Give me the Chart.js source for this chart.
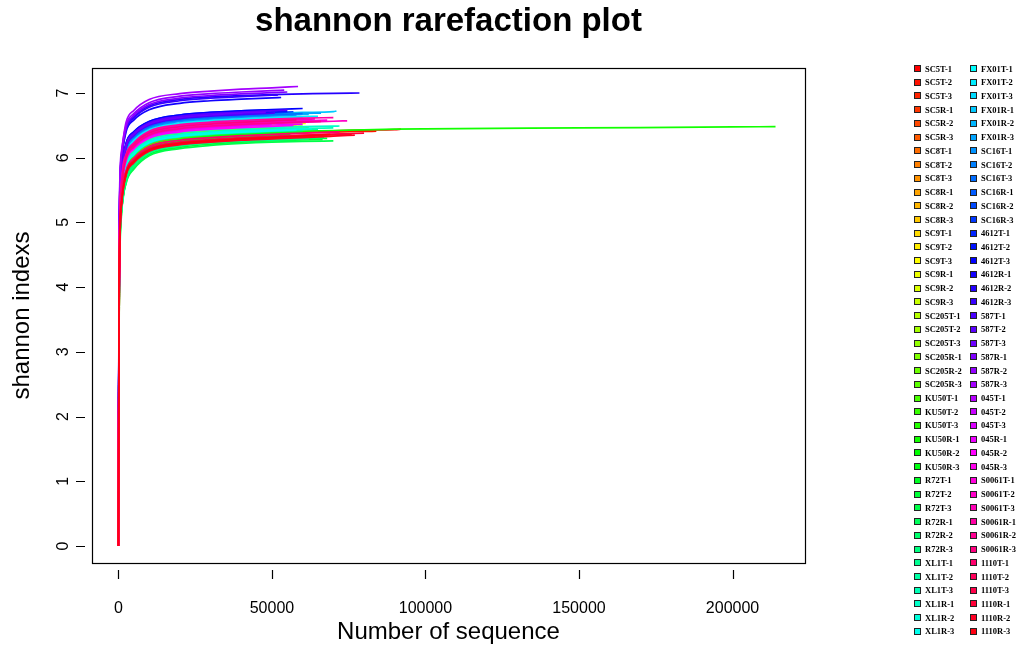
<!DOCTYPE html>
<html>
<head>
<meta charset="utf-8">
<script src="https://cdn.jsdelivr.net/npm/chart.js@4"></script>
<style>
  body { margin: 0; background: #fff; }
  #wrap { position: relative; width: 1016px; height: 650px; overflow: hidden; }
  #plot { position: absolute; left: 0; top: 0; }
  #title { position: absolute; left: 0; top: 0; width: 897px; text-align: center;
           font: bold 33px "Liberation Sans", Arial, sans-serif; line-height: 40px; color: #000; }
  .swatch { position: absolute; width: 7px; height: 7px; box-sizing: border-box; border: 1px solid #222; }
  .keytext { position: absolute; font: bold 8.5px "Liberation Serif", "Times New Roman", serif;
             line-height: 10px; white-space: nowrap; color: #000; }
</style>
</head>
<body>
<div id="wrap">
  <canvas id="plot" width="1016" height="650"></canvas>
  <div id="title">shannon rarefaction plot</div>
  <div id="legend"></div>
</div>
<script>
(function(){

	"use strict";

// Sample names (legend order)
	const sampleNames = [
		"SC5T-1","SC5T-2","SC5T-3","SC5R-1","SC5R-2","SC5R-3",
		"SC8T-1","SC8T-2","SC8T-3","SC8R-1","SC8R-2","SC8R-3",
		"SC9T-1","SC9T-2","SC9T-3","SC9R-1","SC9R-2","SC9R-3",
		"SC205T-1","SC205T-2","SC205T-3","SC205R-1","SC205R-2","SC205R-3",
		"KU50T-1","KU50T-2","KU50T-3","KU50R-1","KU50R-2","KU50R-3",
		"R72T-1","R72T-2","R72T-3","R72R-1","R72R-2","R72R-3",
		"XL1T-1","XL1T-2","XL1T-3","XL1R-1","XL1R-2","XL1R-3",
		"FX01T-1","FX01T-2","FX01T-3","FX01R-1","FX01R-2","FX01R-3",
		"SC16T-1","SC16T-2","SC16T-3","SC16R-1","SC16R-2","SC16R-3",
		"4612T-1","4612T-2","4612T-3","4612R-1","4612R-2","4612R-3",
		"587T-1","587T-2","587T-3","587R-1","587R-2","587R-3",
		"045T-1","045T-2","045T-3","045R-1","045R-2","045R-3",
		"S0061T-1","S0061T-2","S0061T-3","S0061R-1","S0061R-2","S0061R-3",
		"1110T-1","1110T-2","1110T-3","1110R-1","1110R-2","1110R-3"
	];

// Sequencing depths where the curves were sampled
	const depthSteps = [1, 250, 1000, 2500, 5000, 10000, 20000, 30000, 40000, 50000, 60000, 70000, 80000, 90000, 100000, 150000, 200000];

// Last depth of every sample
	const maxDepth = [
		92000, 84000, 76000, 62000, 58000, 65000,
		55000, 1200, 60000, 52000, 57000, 63000,
		50000, 54000, 58000, 61000, 49000, 56000,
		53000, 57000, 60000, 52000, 58000, 62000,
		55000, 59000, 50000, 214000, 56000, 61000,
		66500, 68000, 70000, 64000, 67000, 62000,
		60000, 65000, 70000, 72000, 63000, 58000,
		60000, 65000, 56000, 71000, 62000, 66000,
		58000, 54000, 60000, 52000, 57000, 49000,
		50000, 55000, 60000, 53000, 78500, 52000,
		51000, 55000, 48000, 55000, 54000, 58500,
		52000, 56000, 50000, 60000, 57000, 62000,
		68000, 74500, 64000, 70000, 66000, 58000,
		72000, 75000, 66000, 80000, 77000, 69000
	];

// Shannon index at each depth step below maxDepth, last value = at maxDepth
	const shannonValues = [
		[0, 3.9, 5.40, 5.85, 6.03, 6.20, 6.30, 6.34, 6.365, 6.385, 6.40, 6.415, 6.425, 6.435, 6.44],
		[0, 4.1, 5.38, 5.83, 6.01, 6.18, 6.28, 6.32, 6.345, 6.365, 6.38, 6.395, 6.405, 6.41],
		[0, 3.7, 5.32, 5.78, 5.97, 6.14, 6.24, 6.28, 6.305, 6.325, 6.34, 6.352, 6.36],
		[0, 4.0, 5.33, 5.78, 5.96, 6.13, 6.23, 6.27, 6.295, 6.315, 6.328, 6.33],
		[0, 3.8, 5.38, 5.83, 6.01, 6.18, 6.28, 6.32, 6.345, 6.365, 6.38],
		[0, 4.2, 5.40, 5.85, 6.03, 6.20, 6.30, 6.34, 6.365, 6.385, 6.396, 6.40],
		[0, 4.3, 5.58, 6.03, 6.21, 6.38, 6.48, 6.52, 6.545, 6.565, 6.58],
		[0, 3.6, 5.35, 5.48],
		[0, 4.0, 5.60, 6.05, 6.23, 6.40, 6.50, 6.54, 6.565, 6.585, 6.60],
		[0, 4.4, 5.55, 6.00, 6.18, 6.35, 6.45, 6.49, 6.515, 6.54, 6.55],
		[0, 3.9, 5.62, 6.07, 6.25, 6.42, 6.52, 6.56, 6.585, 6.605, 6.62],
		[0, 4.1, 5.57, 6.02, 6.20, 6.37, 6.47, 6.51, 6.535, 6.555, 6.568, 6.57],
		[0, 4.2, 5.52, 5.97, 6.15, 6.32, 6.42, 6.46, 6.485, 6.505],
		[0, 3.8, 5.55, 6.00, 6.18, 6.35, 6.45, 6.49, 6.515, 6.535, 6.545],
		[0, 4.0, 5.50, 5.95, 6.13, 6.30, 6.40, 6.44, 6.465, 6.485, 6.50],
		[0, 4.3, 5.53, 5.98, 6.16, 6.33, 6.43, 6.47, 6.495, 6.515, 6.528, 6.53],
		[0, 3.7, 5.48, 5.93, 6.11, 6.28, 6.38, 6.42, 6.445, 6.46],
		[0, 4.1, 5.51, 5.96, 6.14, 6.31, 6.41, 6.45, 6.475, 6.495, 6.505],
		[0, 3.9, 5.47, 5.92, 6.10, 6.27, 6.37, 6.41, 6.435, 6.455, 6.46],
		[0, 4.2, 5.45, 5.90, 6.08, 6.25, 6.35, 6.39, 6.415, 6.435, 6.45],
		[0, 4.0, 5.49, 5.94, 6.12, 6.29, 6.39, 6.43, 6.455, 6.475, 6.49],
		[0, 3.8, 5.44, 5.89, 6.07, 6.24, 6.34, 6.38, 6.405, 6.425, 6.43],
		[0, 4.4, 5.42, 5.87, 6.05, 6.22, 6.32, 6.36, 6.385, 6.405, 6.42],
		[0, 4.1, 5.46, 5.91, 6.09, 6.26, 6.36, 6.40, 6.425, 6.445, 6.458, 6.46],
		[0, 3.9, 5.30, 5.80, 5.99, 6.18, 6.29, 6.34, 6.365, 6.385, 6.395],
		[0, 4.2, 5.35, 5.84, 6.03, 6.22, 6.33, 6.37, 6.395, 6.415, 6.43],
		[0, 4.0, 5.28, 5.78, 5.97, 6.16, 6.27, 6.32, 6.35, 6.37],
		[0, 4.3, 5.36, 5.85, 6.05, 6.22, 6.32, 6.36, 6.385, 6.40, 6.41, 6.42, 6.43, 6.44, 6.445, 6.46, 6.475, 6.48],
		[0, 3.7, 5.25, 5.75, 5.95, 6.14, 6.25, 6.30, 6.325, 6.345, 6.355],
		[0, 4.1, 5.30, 5.79, 5.98, 6.17, 6.28, 6.33, 6.355, 6.375, 6.388, 6.39],
		[0, 3.8, 5.15, 5.62, 5.84, 6.05, 6.16, 6.21, 6.24, 6.26, 6.275, 6.28],
		[0, 4.0, 5.18, 5.65, 5.87, 6.08, 6.19, 6.24, 6.265, 6.28, 6.293, 6.30],
		[0, 3.6, 5.12, 5.60, 5.82, 6.03, 6.14, 6.19, 6.22, 6.24, 6.252, 6.26],
		[0, 4.2, 5.22, 5.69, 5.91, 6.11, 6.22, 6.27, 6.295, 6.31, 6.325, 6.33],
		[0, 3.9, 5.20, 5.67, 5.89, 6.09, 6.20, 6.25, 6.275, 6.29, 6.303, 6.31],
		[0, 4.1, 5.17, 5.64, 5.86, 6.07, 6.18, 6.23, 6.255, 6.272, 6.286, 6.29],
		[0, 4.0, 5.38, 5.85, 6.04, 6.22, 6.32, 6.36, 6.385, 6.405, 6.42],
		[0, 3.8, 5.40, 5.87, 6.06, 6.24, 6.34, 6.38, 6.405, 6.422, 6.435, 6.44],
		[0, 4.2, 5.42, 5.89, 6.08, 6.26, 6.36, 6.40, 6.425, 6.44, 6.452, 6.46],
		[0, 4.1, 5.45, 5.92, 6.11, 6.29, 6.39, 6.43, 6.455, 6.47, 6.48, 6.487, 6.49],
		[0, 3.9, 5.41, 5.88, 6.07, 6.25, 6.35, 6.39, 6.415, 6.432, 6.446, 6.45],
		[0, 4.3, 5.39, 5.86, 6.05, 6.23, 6.33, 6.37, 6.395, 6.415, 6.43],
		[0, 4.2, 5.62, 6.07, 6.25, 6.42, 6.52, 6.56, 6.585, 6.605, 6.62],
		[0, 4.0, 5.64, 6.09, 6.27, 6.44, 6.54, 6.58, 6.605, 6.622, 6.635, 6.64],
		[0, 4.4, 5.60, 6.05, 6.23, 6.40, 6.50, 6.54, 6.565, 6.585, 6.595],
		[0, 4.1, 5.70, 6.15, 6.33, 6.50, 6.60, 6.64, 6.665, 6.685, 6.70, 6.713, 6.72],
		[0, 3.9, 5.67, 6.12, 6.30, 6.47, 6.57, 6.61, 6.635, 6.655, 6.668, 6.67],
		[0, 4.3, 5.69, 6.14, 6.32, 6.49, 6.59, 6.63, 6.655, 6.672, 6.685, 6.69],
		[0, 4.0, 5.68, 6.12, 6.30, 6.46, 6.56, 6.60, 6.625, 6.645, 6.66],
		[0, 4.5, 5.72, 6.16, 6.34, 6.50, 6.60, 6.64, 6.665, 6.685, 6.695],
		[0, 4.2, 5.70, 6.14, 6.32, 6.48, 6.58, 6.62, 6.645, 6.665, 6.68],
		[0, 4.4, 5.75, 6.19, 6.37, 6.53, 6.63, 6.67, 6.695, 6.72, 6.725],
		[0, 4.1, 5.73, 6.17, 6.35, 6.51, 6.61, 6.65, 6.675, 6.695, 6.71],
		[0, 4.6, 5.76, 6.20, 6.38, 6.54, 6.64, 6.68, 6.71, 6.725],
		[0, 4.5, 5.78, 6.22, 6.40, 6.56, 6.66, 6.70, 6.725, 6.74],
		[0, 4.3, 5.74, 6.18, 6.36, 6.52, 6.62, 6.66, 6.685, 6.705, 6.715],
		[0, 4.4, 5.78, 6.22, 6.40, 6.56, 6.66, 6.70, 6.725, 6.745, 6.76],
		[0, 4.7, 5.95, 6.40, 6.58, 6.74, 6.84, 6.88, 6.905, 6.925, 6.93],
		[0, 4.6, 6.00, 6.45, 6.63, 6.80, 6.90, 6.94, 6.96, 6.975, 6.985, 6.995, 7.00],
		[0, 4.8, 5.98, 6.43, 6.61, 6.78, 6.88, 6.92, 6.945, 6.965, 6.97],
		[0, 4.5, 5.72, 6.16, 6.34, 6.50, 6.60, 6.64, 6.665, 6.69, 6.695],
		[0, 4.3, 5.76, 6.20, 6.38, 6.54, 6.64, 6.68, 6.705, 6.725, 6.735],
		[0, 4.6, 5.74, 6.18, 6.36, 6.52, 6.62, 6.66, 6.69, 6.705],
		[0, 4.9, 6.02, 6.47, 6.65, 6.82, 6.92, 6.96, 6.985, 7.005, 7.015],
		[0, 4.7, 6.05, 6.50, 6.68, 6.85, 6.95, 6.99, 7.015, 7.035, 7.045],
		[0, 5.0, 6.10, 6.55, 6.73, 6.90, 6.99, 7.03, 7.06, 7.08, 7.10],
		[0, 4.2, 5.55, 6.00, 6.18, 6.35, 6.45, 6.49, 6.515, 6.54, 6.545],
		[0, 4.0, 5.58, 6.03, 6.21, 6.38, 6.48, 6.52, 6.545, 6.565, 6.575],
		[0, 4.4, 5.53, 5.98, 6.16, 6.33, 6.43, 6.47, 6.495, 6.515],
		[0, 3.9, 5.52, 5.97, 6.15, 6.32, 6.42, 6.46, 6.485, 6.505, 6.52],
		[0, 4.1, 5.50, 5.95, 6.13, 6.30, 6.40, 6.44, 6.465, 6.485, 6.50],
		[0, 4.3, 5.55, 6.00, 6.18, 6.35, 6.45, 6.49, 6.515, 6.535, 6.548, 6.55],
		[0, 3.8, 5.55, 6.00, 6.18, 6.36, 6.46, 6.50, 6.53, 6.55, 6.57, 6.58],
		[0, 4.0, 5.52, 5.98, 6.16, 6.34, 6.44, 6.48, 6.51, 6.53, 6.55, 6.563, 6.57],
		[0, 4.2, 5.58, 6.03, 6.21, 6.39, 6.49, 6.53, 6.555, 6.575, 6.592, 6.60],
		[0, 3.9, 5.60, 6.05, 6.23, 6.41, 6.51, 6.55, 6.575, 6.595, 6.61, 6.62],
		[0, 4.1, 5.54, 5.99, 6.17, 6.35, 6.45, 6.49, 6.515, 6.535, 6.552, 6.56],
		[0, 4.4, 5.57, 6.02, 6.20, 6.38, 6.48, 6.52, 6.545, 6.57, 6.585],
		[0, 3.7, 5.34, 5.80, 5.99, 6.17, 6.27, 6.31, 6.34, 6.36, 6.38, 6.395, 6.40],
		[0, 4.0, 5.31, 5.77, 5.96, 6.14, 6.24, 6.28, 6.31, 6.33, 6.35, 6.363, 6.37],
		[0, 3.8, 5.28, 5.74, 5.93, 6.11, 6.21, 6.25, 6.28, 6.30, 6.325, 6.34],
		[0, 4.2, 5.30, 5.76, 5.95, 6.13, 6.23, 6.27, 6.30, 6.32, 6.34, 6.362, 6.38],
		[0, 3.9, 5.27, 5.73, 5.92, 6.10, 6.20, 6.24, 6.27, 6.29, 6.31, 6.333, 6.35],
		[0, 4.1, 5.29, 5.75, 5.94, 6.12, 6.22, 6.26, 6.29, 6.31, 6.335, 6.36]
	];

// Axis ticks
	const xTicks = [0, 50000, 100000, 150000, 200000];
	const yTicks = [0, 1, 2, 3, 4, 5, 6, 7];

// Colours like R rainbow(n)
	function rainbow(i, n){
		return "hsl(" + (i / n * 360).toFixed(2) + ", 100%, 50%)";
	}

	const datasets = sampleNames.map(function(name, i){
		const row = shannonValues[i];
		const pts = row.map(function(v, j){
			return {x: j < row.length - 1 ? depthSteps[j] : maxDepth[i], y: v};
		});
		return {
			label: name,
			data: pts,
			borderColor: rainbow(i, sampleNames.length),
			borderWidth: 1.7,
			pointRadius: 0,
			fill: false,
			cubicInterpolationMode: "monotone",
			order: -i
		};
	});

// Box round the plot plus detached tick marks, R style
	const rFrame = {
		id: "rFrame",
		afterDatasetsDraw(chart){
			const ctx = chart.ctx;
			const a = chart.chartArea;
			const xs = chart.scales.x, ys = chart.scales.y;
			ctx.save();
			ctx.strokeStyle = "#000";
			ctx.lineWidth = 1.2;
			ctx.strokeRect(a.left + 0.5, a.top + 0.5, a.right - a.left, a.bottom - a.top);
			ctx.beginPath();
			xs.ticks.forEach(function(t){
				const px = Math.round(xs.getPixelForValue(t.value)) + 0.5;
				ctx.moveTo(px, a.bottom + 7);
				ctx.lineTo(px, a.bottom + 16);
			});
			ys.ticks.forEach(function(t){
				const py = Math.round(ys.getPixelForValue(t.value)) + 0.5;
				ctx.moveTo(a.left - 7, py);
				ctx.lineTo(a.left - 16, py);
			});
			ctx.stroke();
			ctx.restore();
		}
	};

	const sans = '"Liberation Sans", Arial, sans-serif';

	new Chart(document.getElementById("plot"), {
		type: "line",
		data: {datasets: datasets},
		plugins: [rFrame],
		options: {
			responsive: false,
			animation: false,
			devicePixelRatio: 1,
			layout: {padding: {top: 68, right: 211, left: 0, bottom: 0}},
			plugins: {legend: {display: false}, title: {display: false}, tooltip: {enabled: false}},
			scales: {
				x: {
					type: "linear",
					min: -8600,
					max: 223600,
					grid: {display: false, drawTicks: false},
					border: {display: false},
					afterFit: function(s){ s.height = 87; },
					afterBuildTicks: function(s){ s.ticks = xTicks.map(function(v){ return {value: v}; }); },
					ticks: {
						padding: 36, color: "#000", autoSkip: false, maxRotation: 0,
						font: {family: sans, size: 16},
						callback: function(v){ return String(v); }
					},
					title: {display: true, text: "Number of sequence", color: "#000",
						font: {family: sans, size: 24}, padding: {top: 0, bottom: 3}}
				},
				y: {
					type: "linear",
					min: -0.263,
					max: 7.386,
					grid: {display: false, drawTicks: false},
					border: {display: false},
					afterFit: function(s){ s.width = 92; },
					afterBuildTicks: function(s){ s.ticks = yTicks.map(function(v){ return {value: v}; }); },
					ticks: {
						padding: 24, color: "#000", autoSkip: false,
						minRotation: 90, maxRotation: 90, crossAlign: "center",
						font: {family: sans, size: 16},
						callback: function(v){ return String(v); }
					},
					title: {display: true, text: "shannon indexs", color: "#000",
						font: {family: sans, size: 24}, padding: {top: 8, bottom: 0}}
				}
			}
		}
	});

// Legend in two columns on the right
	const legend = document.getElementById("legend");
	const perCol = Math.ceil(sampleNames.length / 2);
	sampleNames.forEach(function(name, i){
		const col = Math.floor(i / perCol), r = i % perCol;
		const cy = 68.5 + r * 13.73;
		const bx = col === 0 ? 914 : 970;
		const sw = document.createElement("div");
		sw.className = "swatch";
		sw.style.left = bx + "px";
		sw.style.top = (cy - 3.5) + "px";
		sw.style.background = rainbow(i, sampleNames.length);
		legend.appendChild(sw);
		const tx = document.createElement("div");
		tx.className = "keytext";
		tx.style.left = (bx + 11) + "px";
		tx.style.top = (cy - 5) + "px";
		tx.textContent = name;
		legend.appendChild(tx);
	});

})();
</script>
</body>
</html>
